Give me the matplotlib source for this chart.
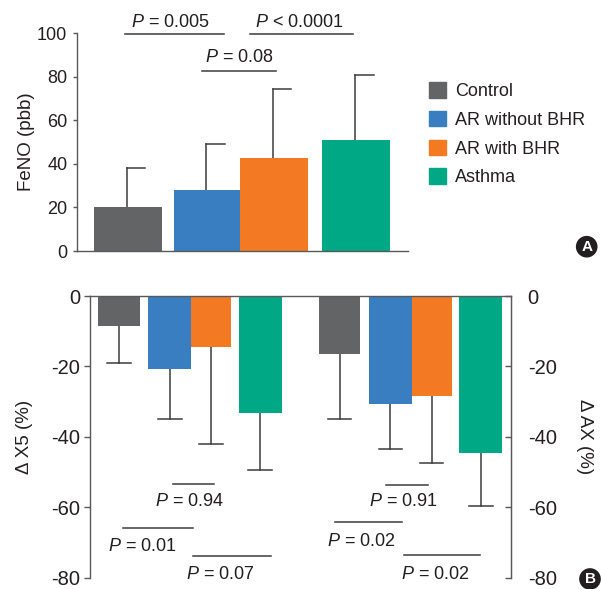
import matplotlib
matplotlib.use('Agg')
import matplotlib.pyplot as plt
import numpy as np

plt.rcParams['font.family'] = ['Liberation Sans', 'DejaVu Sans']
plt.rcParams['mathtext.fontset'] = 'custom'
plt.rcParams['mathtext.it'] = 'Liberation Sans:italic'
plt.rcParams['mathtext.rm'] = 'Liberation Sans'

groups = ['Control', 'AR without BHR', 'AR with BHR', 'Asthma']
colors = ['#636466', '#3a7ec2', '#f37a23', '#00a886']

# panel A: FeNO (mean, SD)
feno_mean = [20.2, 28.0, 42.7, 50.9]
feno_sd = [18.0, 21.1, 31.8, 30.0]

# panel B: change in X5 and AX (mean, SD)
x5_mean = [-8.4, -20.8, -14.4, -33.1]
x5_sd = [10.7, 14.2, 27.6, 16.3]
ax_mean = [-16.5, -30.8, -28.3, -44.5]
ax_sd = [18.3, 12.7, 19.1, 15.0]

txt = '#231f20'
spc = '#58595b'
errc = '#3c3c3c'

fig = plt.figure(figsize=(6.01, 5.89), dpi=100)

# ---------- panel A ----------
axA = fig.add_axes([77/601, 1-251/589, 331/601, 218/589])
posA = np.array([0.74, 1.89, 2.86, 4.05])
axA.bar(posA, feno_mean, width=0.98, color=colors, zorder=2)
for x, m, s in zip(posA, feno_mean, feno_sd):
    axA.plot([x - 0.02, x - 0.02], [m, m + s], color=errc, lw=1.1, zorder=1)
    axA.plot([x - 0.02, x + 0.25], [m + s, m + s], color=errc, lw=1.1, zorder=1)
axA.set_xlim(0, 4.8)
axA.set_ylim(0, 100)
axA.set_yticks([0, 20, 40, 60, 80, 100])
axA.set_xticks([])
for s in ['top', 'right']:
    axA.spines[s].set_visible(False)
for s in ['left', 'bottom']:
    axA.spines[s].set_color(spc)
    axA.spines[s].set_linewidth(1.0)
axA.tick_params(axis='y', direction='out', length=3, width=1, color=spc,
                labelsize=13, labelcolor=txt, pad=4)
axA.set_ylabel('FeNO (pbb)', fontsize=13.5, color=txt, labelpad=1.5)

sigA = [((0.70, 2.13), 99.5, 1.36, 104.6, '$P$ = 0.005'),
        ((2.51, 4.00), 99.5, 3.22, 104.6, '$P$ < 0.0001'),
        ((1.81, 2.88), 82.7, 2.35, 88.6, '$P$ = 0.08')]
for (x0, x1), y, tx, ty, lab in sigA:
    axA.plot([x0, x1], [y, y], color=errc, lw=1.1, clip_on=False)
    axA.text(tx, ty, lab, ha='center', va='center', fontsize=13, color=txt, clip_on=False)

handles = [plt.Rectangle((0, 0), 1, 1, color=c) for c in colors]
fig.legend(handles, groups, loc='upper left', bbox_to_anchor=(429/601, 1-82/589),
           frameon=False, fontsize=13, handlelength=0.95, handleheight=0.95,
           handletextpad=0.5, labelspacing=0.6, borderpad=0, borderaxespad=0,
           labelcolor=txt)

# ---------- panel B ----------
axB = fig.add_axes([90/601, 1-577.7/589, 421/601, 281.7/589])
offs = np.array([0.0, 1.21, 2.19, 3.36])
pos1 = 0.69 + offs
pos2 = 5.94 + offs
widthsB = [0.99, 1.03, 0.95, 1.03]
axB.bar(pos1, x5_mean, width=widthsB, color=colors, zorder=2)
axB.bar(pos2, ax_mean, width=widthsB, color=colors, zorder=2)
for pos, mean, sd in [(pos1, x5_mean, x5_sd), (pos2, ax_mean, ax_sd)]:
    for x, m, s in zip(pos, mean, sd):
        axB.plot([x, x], [m, m - s], color=errc, lw=1.1, zorder=1)
        axB.plot([x - 0.28, x + 0.28], [m - s, m - s], color=errc, lw=1.1, zorder=1)
axB.set_xlim(0, 10.02)
axB.set_ylim(-80, 0)
axB.set_xticks([])
axB.set_yticks([0, -20, -40, -60, -80])
axB.set_yticklabels(['0', '-20', '-40', '-60', '-80'])
axB.spines['bottom'].set_visible(False)
for s in ['left', 'right', 'top']:
    axB.spines[s].set_color(spc)
    axB.spines[s].set_linewidth(1.0)
axB.tick_params(axis='y', direction='out', length=4, width=1, color=spc,
                labelsize=14.5, labelcolor=txt, pad=3)
axB.set_ylabel('Δ X5 (%)', fontsize=13.5, color=txt, labelpad=13)

axR = axB.twinx()
axR.set_ylim(-80, 0)
axR.set_yticks([0, -20, -40, -60, -80])
axR.set_yticklabels(['0', '-20', '-40', '-60', '-80'])
for s in ['left', 'top', 'bottom']:
    axR.spines[s].set_visible(False)
axR.spines['right'].set_color(spc)
axR.tick_params(axis='y', direction='in', length=4, width=1, color=spc,
                labelsize=14.5, labelcolor=txt, pad=12)
axR.set_ylabel('Δ AX (%)', fontsize=13.5, color=txt, rotation=-90, labelpad=26)

sigB = [((1.98, 2.95), -53.4, 2.36, -58.4, '$P$ = 0.94'),
        ((0.79, 2.45), -65.8, 1.24, -71.2, '$P$ = 0.01'),
        ((2.45, 4.30), -73.7, 3.11, -79.2, '$P$ = 0.07'),
        ((7.04, 8.04), -53.6, 7.46, -58.4, '$P$ = 0.91'),
        ((5.82, 7.42), -64.2, 6.46, -69.6, '$P$ = 0.02'),
        ((7.48, 9.29), -73.6, 8.23, -79.1, '$P$ = 0.02')]
for (x0, x1), y, tx, ty, lab in sigB:
    axB.plot([x0, x1], [y, y], color=errc, lw=1.1, clip_on=False)
    axB.text(tx, ty, lab, ha='center', va='center', fontsize=13, color=txt, clip_on=False)

# panel badges
for lab, x, y in [('A', 586.7, 246.7), ('B', 590, 579)]:
    fig.text(x/601, 1-y/589, lab, ha='center', va='center', fontsize=11,
             fontweight='bold', color='white',
             bbox=dict(boxstyle='circle,pad=0.25', fc='#231f20', ec='none'))

fig.savefig('out.png', dpi=100)
